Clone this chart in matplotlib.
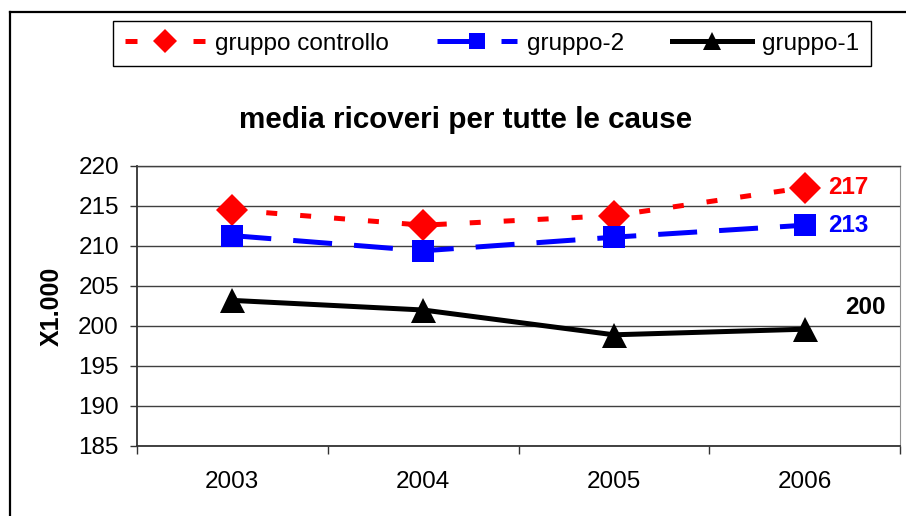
import matplotlib
matplotlib.use("Agg")
import matplotlib.pyplot as plt
from matplotlib.lines import Line2D

plt.rcParams['font.family'] = ['Liberation Sans', 'DejaVu Sans']

# data
anni = ['2003', '2004', '2005', '2006']
controllo = [214.5, 212.6, 213.8, 217.3]
gruppo2 = [211.3, 209.4, 211.1, 212.6]
gruppo1 = [203.2, 202.0, 198.9, 199.6]
etichette = ['217', '213', '200']

W, H = 906, 516
fig = plt.figure(figsize=(W / 100, H / 100), dpi=100)

# outer chart border (left and top visible, rest cropped)
fig.add_artist(Line2D([10 / W, 10 / W], [0, 1 - 12 / H], color='black', lw=1.6,
                      transform=fig.transFigure))
fig.add_artist(Line2D([10 / W, 1], [1 - 12 / H, 1 - 12 / H], color='black', lw=1.6,
                      transform=fig.transFigure))

ax = fig.add_axes([137 / W, 1 - 446 / H, (900 - 137) / W, (446 - 166) / H])
x = list(range(len(anni)))

ax.plot(x, controllo, color='#ff0000', lw=3.6, dashes=(2.2, 4.6),
        marker='D', markersize=16, markeredgewidth=0, zorder=3)
ax.plot(x, gruppo2, color='#0000ff', lw=3.6, dashes=(7.8, 4.4),
        marker='s', markersize=16, markeredgewidth=0, zorder=3)
ax.plot(x, gruppo1, color='black', lw=3.6,
        marker='^', markersize=18, markeredgewidth=0, zorder=3)

ax.set_xlim(-0.5, 3.5)
ax.set_ylim(185, 220)
ax.set_yticks(range(185, 221, 5))
ax.set_xticks(x)
ax.set_xticklabels(anni)
ax.set_xticks([-0.5, 0.5, 1.5, 2.5, 3.5], minor=True)
ax.tick_params(axis='x', which='major', length=0, pad=18, labelsize=17.5)
ax.tick_params(axis='x', which='minor', length=6, width=1, color='#333333', direction='out')
ax.tick_params(axis='y', length=5, width=1, color='#333333', pad=8, labelsize=17.5)
ax.yaxis.grid(True, color='#404040', lw=1)
ax.set_axisbelow(True)
for s in ['left', 'bottom']:
    ax.spines[s].set_color('#333333')
    ax.spines[s].set_linewidth(1.3)
ax.spines['right'].set_color('#909090')
ax.spines['top'].set_color('#404040')
ax.spines['top'].set_linewidth(1)

# end labels
ax.annotate(etichette[0], (3, controllo[3]), xytext=(17, 0), textcoords='offset points',
            color='#ff0000', fontsize=17.5, fontweight='bold', va='center', ha='left')
ax.annotate(etichette[1], (3, gruppo2[3]), xytext=(17, 0), textcoords='offset points',
            color='#0000ff', fontsize=17.5, fontweight='bold', va='center', ha='left')
ax.text(3.21, 202.3, etichette[2], color='black', fontsize=17.5, fontweight='bold',
        va='center', ha='left')

fig.text(466 / W, 1 - 120 / H, 'media ricoveri per tutte le cause', fontsize=21.3,
         fontweight='bold', ha='center', va='center')
fig.text(52 / W, 1 - 306 / H, 'X1.000', fontsize=18, fontweight='bold', rotation=90,
         ha='center', va='center')

handles = [
    Line2D([], [], color='#ff0000', lw=3.6, dashes=(2.4, 4.4), marker='D',
           markersize=12, markeredgewidth=0),
    Line2D([], [], color='#0000ff', lw=3.6, dashes=(6.8, 6.0), marker='s',
           markersize=11, markeredgewidth=0),
    Line2D([], [], color='black', lw=3.6, marker='^', markersize=13, markeredgewidth=0),
]
leg = fig.legend(handles, ['gruppo controllo', 'gruppo-2', 'gruppo-1'], ncol=3,
                 loc='center', bbox_to_anchor=(492 / W, 1 - 43.5 / H), fontsize=17.5,
                 handlelength=3.3, handletextpad=0.42, columnspacing=1.95,
                 borderpad=0.49, fancybox=False, framealpha=1, edgecolor='black')
leg.get_frame().set_linewidth(1)

fig.savefig('out.png', dpi=100)
